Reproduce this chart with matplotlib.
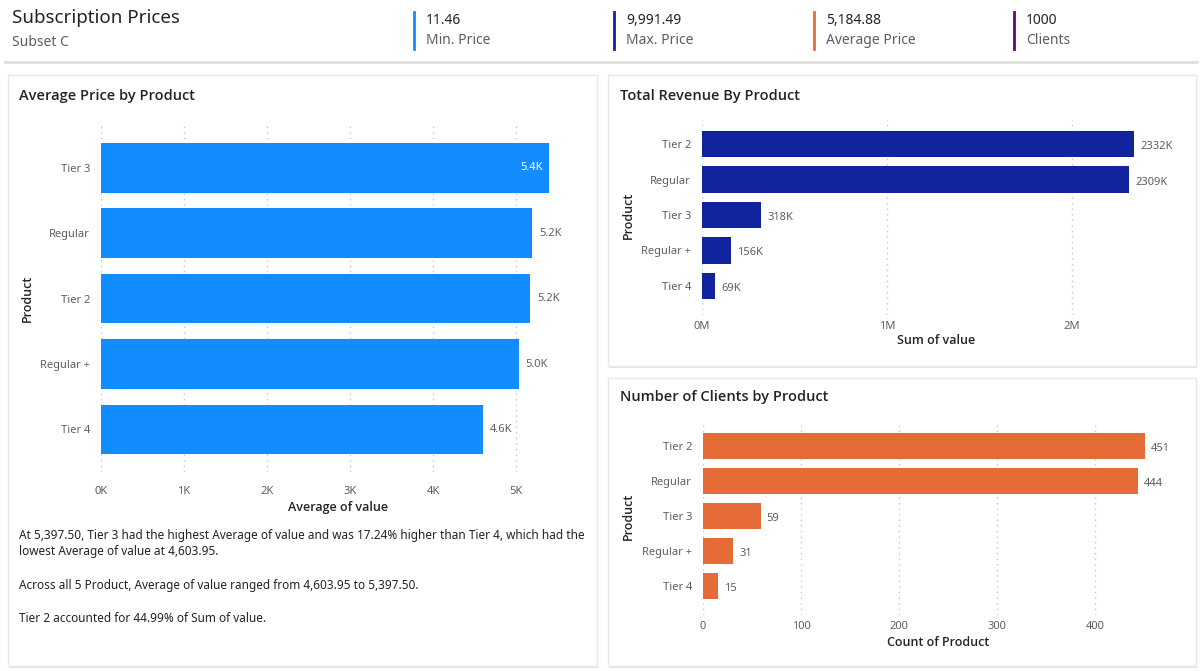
import matplotlib.pyplot as plt
from matplotlib.patches import Rectangle
from matplotlib.ticker import FuncFormatter

# Data
avg_products = ['Tier 3', 'Regular', 'Tier 2', 'Regular +', 'Tier 4']
avg_price = [5397.50, 5195, 5171, 5032, 4603.95]

rev_products = ['Tier 2', 'Regular', 'Tier 3', 'Regular +', 'Tier 4']
revenue_k = [2332, 2309, 318, 156, 69]

cli_products = ['Tier 2', 'Regular', 'Tier 3', 'Regular +', 'Tier 4']
clients = [451, 444, 59, 31, 15]

kpi_values = ['11.46', '9,991.49', '5,184.88', '1000']
kpi_labels = ['Min. Price', 'Max. Price', 'Average Price', 'Clients']
kpi_colors = ['#118DFF', '#12239E', '#E66C37', '#6B007B']

insights = [
    'At 5,397.50, Tier 3 had the highest Average of value and was 17.24% higher than Tier 4, which had the',
    'lowest Average of value at 4,603.95.',
    'Across all 5 Product, Average of value ranged from 4,603.95 to 5,397.50.',
    'Tier 2 accounted for 44.99% of Sum of value.',
]

W, H = 1200, 671
plt.rcParams['font.family'] = ['Noto Sans', 'DejaVu Sans']
fig = plt.figure(figsize=(W / 100, H / 100), dpi=100)
fig.patch.set_facecolor('white')

DARK = '#252423'
GREY = '#605E5C'
TITLE_FONT = ['Open Sans', 'Noto Sans', 'DejaVu Sans']


def fx(x):
    return x / W


def fy(y):
    return 1 - y / H


def box(x0, y0, x1, y1):
    return [x0 / W, 1 - y1 / H, (x1 - x0) / W, (y1 - y0) / H]


# header
fig.text(fx(12), fy(18), 'Subscription Prices', fontsize=13.5, color=DARK, va='center')
fig.text(fx(12), fy(43), 'Subset C', fontsize=10, color=GREY, va='center')
for i in range(4):
    lx = 414 + 200 * i
    fig.add_artist(plt.Line2D([fx(lx), fx(lx)], [fy(12), fy(49)], color=kpi_colors[i], lw=2))
    fig.text(fx(lx + 12), fy(20), kpi_values[i], fontsize=10, color=DARK, va='center')
    fig.text(fx(lx + 12), fy(40), kpi_labels[i], fontsize=10, color=GREY, va='center')
fig.add_artist(plt.Line2D([fx(5), fx(1197)], [fy(62), fy(62)], color='#E1DFDD', lw=2))

# panels
for (x0, y0, x1, y1) in [(8, 75, 597, 666), (608, 75, 1196, 366), (608, 378, 1196, 666)]:
    fig.add_artist(Rectangle((fx(x0 + 1), fy(y1 + 2)), (x1 - x0) / W, (y1 - y0) / H,
                             transform=fig.transFigure, facecolor='#E4E4E4', edgecolor='none', zorder=-10))
    fig.add_artist(Rectangle((fx(x0), fy(y1)), (x1 - x0) / W, (y1 - y0) / H,
                             transform=fig.transFigure, facecolor='white', edgecolor='#E8E8E8', lw=1, zorder=-9))


def style(ax, xpad):
    for s in ax.spines.values():
        s.set_visible(False)
    ax.tick_params(length=0, labelsize=8, labelcolor=GREY)
    ax.tick_params(axis='y', pad=8)
    ax.tick_params(axis='x', pad=xpad)
    ax.grid(axis='x', color='#C8C6C4', linestyle=(0, (1, 3)), lw=1)
    ax.set_axisbelow(True)
    ax.set_facecolor('none')


def title(x, y, s):
    fig.text(fx(x), fy(y), s, fontsize=10.5, color=DARK, va='center', weight=600, family=TITLE_FONT)


def axis_title(x, y, s, rot=0):
    fig.text(fx(x), fy(y), s, rotation=rot, fontsize=9, color=DARK, va='center', ha='center',
             weight=600, family=TITLE_FONT)


# Average Price by Product
title(19, 96, 'Average Price by Product')
ax1 = fig.add_axes(box(101, 122, 570, 472))
ax1.barh(avg_products, avg_price, height=0.76, color='#118DFF')
ax1.set_ylim(4.65, -0.7)
ax1.set_xlim(0, 5650)
ax1.set_xticks([0, 1000, 2000, 3000, 4000, 5000])
ax1.xaxis.set_major_formatter(FuncFormatter(lambda v, p: f'{v / 1000:.0f}K'))
style(ax1, 10)
for i, v in enumerate(avg_price):
    if i == 0:
        ax1.text(v - 80, i, f'{v / 1000:.1f}K', color='white', fontsize=8, va='center', ha='right')
    else:
        ax1.text(v + 80, i, f'{v / 1000:.1f}K', color=GREY, fontsize=8, va='center')
axis_title(27, 298, 'Product', 90)
axis_title(338, 508, 'Average of value')
for txt, yy in zip(insights, [536, 552, 585, 618]):
    fig.text(fx(19), fy(yy), txt, fontsize=8.5, color=DARK, va='center')

# Total Revenue By Product
title(620, 96, 'Total Revenue By Product')
ax2 = fig.add_axes(box(702, 120, 1185, 315))
ax2.barh(rev_products, [v / 1000 for v in revenue_k], height=0.74, color='#12239E')
ax2.set_ylim(4.82, -0.68)
ax2.set_xlim(0, 2.61)
ax2.set_xticks([0, 1, 2])
ax2.xaxis.set_major_formatter(FuncFormatter(lambda v, p: f'{v:.0f}M'))
style(ax2, 4)
for i, v in enumerate(revenue_k):
    ax2.text(v / 1000 + 0.035, i + 0.07, f'{v}K', color=GREY, fontsize=8, va='center')
axis_title(628, 215, 'Product', 90)
axis_title(936, 341, 'Sum of value')

# Number of Clients by Product
title(620, 397, 'Number of Clients by Product')
ax3 = fig.add_axes(box(703, 425, 1185, 615))
ax3.barh(cli_products, clients, height=0.74, color='#E66C37')
ax3.set_ylim(4.82, -0.6)
ax3.set_xlim(0, 492)
ax3.set_xticks([0, 100, 200, 300, 400])
style(ax3, 4)
for i, v in enumerate(clients):
    ax3.text(v + 6, i + 0.07, f'{v}', color=GREY, fontsize=8, va='center')
axis_title(628, 516, 'Product', 90)
axis_title(938, 642, 'Count of Product')

fig.savefig('out.png', dpi=100)
